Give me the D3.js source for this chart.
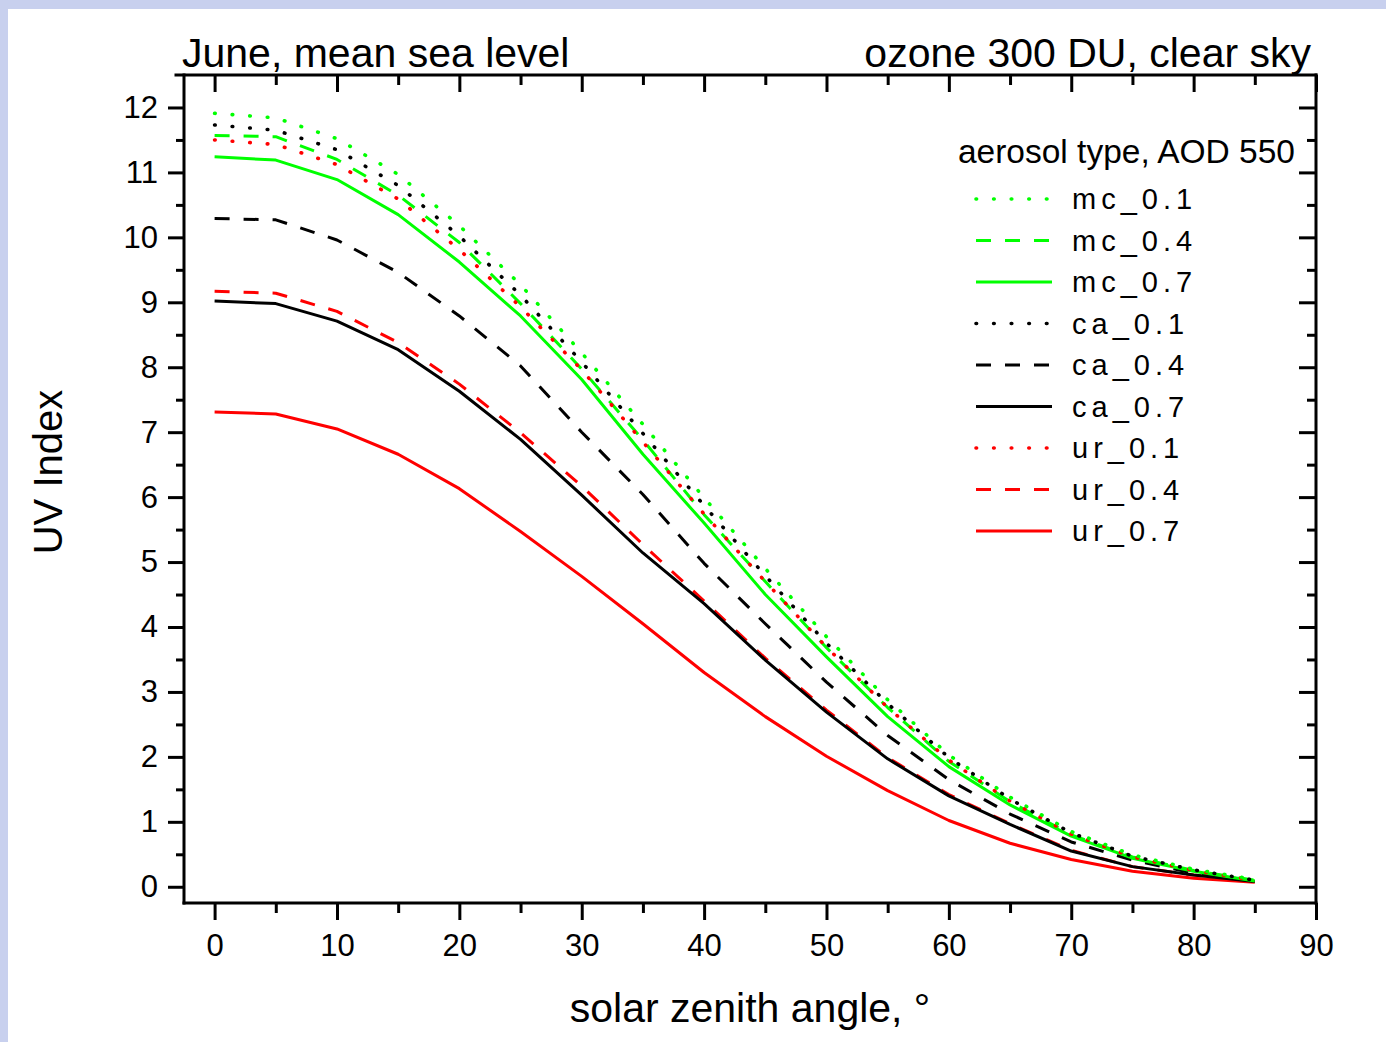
<!DOCTYPE html>
<html>
<head>
<meta charset="utf-8">
<script src="https://cdn.jsdelivr.net/npm/d3@7"></script>
<style>
  html, body { margin: 0; padding: 0; background: #c8d0ee; }
  svg { display: block; }
  text { font-family: "Liberation Sans", Arial, sans-serif; fill: #000; }
</style>
</head>
<body>
<svg id="chart" width="1386" height="1042"></svg>
<script>
// ---- data ----
const angles = [0, 5, 10, 15, 20, 25, 30, 35, 40, 45, 50, 55, 60, 65, 70, 75, 80, 85];
const mc_01 = [11.91, 11.84, 11.52, 10.97, 10.18, 9.27, 8.22, 7.12, 5.99, 4.90, 3.85, 2.88, 2.03, 1.38, 0.85, 0.49, 0.27, 0.11];
const mc_04 = [11.57, 11.55, 11.20, 10.65, 9.92, 8.98, 7.97, 6.88, 5.73, 4.70, 3.68, 2.76, 1.93, 1.31, 0.80, 0.46, 0.25, 0.10];
const mc_07 = [11.24, 11.19, 10.89, 10.35, 9.62, 8.79, 7.81, 6.66, 5.60, 4.50, 3.54, 2.62, 1.85, 1.26, 0.78, 0.44, 0.24, 0.09];
const ca_01 = [11.73, 11.65, 11.35, 10.80, 10.02, 9.11, 8.08, 6.98, 5.87, 4.79, 3.75, 2.82, 1.99, 1.35, 0.83, 0.47, 0.26, 0.10];
const ca_04 = [10.29, 10.27, 9.96, 9.46, 8.79, 8.02, 7.00, 6.04, 4.98, 4.05, 3.15, 2.33, 1.65, 1.12, 0.69, 0.41, 0.21, 0.09];
const ca_07 = [9.02, 8.98, 8.71, 8.27, 7.63, 6.89, 6.03, 5.14, 4.36, 3.49, 2.69, 1.97, 1.40, 0.96, 0.55, 0.31, 0.18, 0.08];
const ur_01 = [11.50, 11.43, 11.12, 10.59, 9.81, 8.93, 7.96, 6.85, 5.74, 4.70, 3.69, 2.76, 1.95, 1.32, 0.81, 0.46, 0.25, 0.10];
const ur_04 = [9.17, 9.14, 8.86, 8.38, 7.74, 6.99, 6.17, 5.27, 4.40, 3.52, 2.72, 1.99, 1.42, 0.97, 0.56, 0.31, 0.18, 0.08];
const ur_07 = [7.31, 7.28, 7.05, 6.66, 6.13, 5.47, 4.78, 4.05, 3.30, 2.62, 2.01, 1.48, 1.02, 0.67, 0.42, 0.24, 0.13, 0.07];

const seriesNames = ["mc_0.1", "mc_0.4", "mc_0.7", "ca_0.1", "ca_0.4", "ca_0.7", "ur_0.1", "ur_0.4", "ur_0.7"];
const seriesValues = [mc_01, mc_04, mc_07, ca_01, ca_04, ca_07, ur_01, ur_04, ur_07];
const seriesColors = ["#00ff00", "#00ff00", "#00ff00", "#000000", "#000000", "#000000", "#ff0000", "#ff0000", "#ff0000"];
const seriesStyles = ["dot", "dash", "solid", "dot", "dash", "solid", "dot", "dash", "solid"];

const xMajorTicks = [0, 10, 20, 30, 40, 50, 60, 70, 80, 90];
const xMinorTicks = [5, 15, 25, 35, 45, 55, 65, 75, 85];
const yMajorTicks = [0, 1, 2, 3, 4, 5, 6, 7, 8, 9, 10, 11, 12];
const yMinorTicks = [0.5, 1.5, 2.5, 3.5, 4.5, 5.5, 6.5, 7.5, 8.5, 9.5, 10.5, 11.5];

const titleLeft = "June, mean sea level";
const titleRight = "ozone 300 DU, clear sky";
const xLabel = "solar zenith angle, °";
const yLabel = "UV Index";
const legendTitle = "aerosol type, AOD 550";

// ---- layout ----
const L = 184, R = 1316, T = 75, B = 903;
const svg = d3.select("#chart");
svg.append("rect").attr("x", 8).attr("y", 9).attr("width", 1386 - 8).attr("height", 1042 - 9).attr("fill", "#fff");

const x = d3.scaleLinear().domain([-2.5, 90]).range([L, R]);
const y = d3.scaleLinear().domain([-0.25, 12.5]).range([B, T]);

// ---- data lines ----
const styleDash = { dot: "0.6,17", dash: "15,14", solid: null };
const styleCap = { dot: "round", dash: "butt", solid: "butt" };
const styleWidth = { dot: 3.6, dash: 3, solid: 3 };

const line = d3.line().x(d => x(d[0])).y(d => y(d[1]));
const gLines = svg.append("g");
const order = [8, 7, 5, 4, 2, 1, 6, 3, 0];
order.forEach(i => {
  const pts = angles.map((a, k) => [a, seriesValues[i][k]]);
  gLines.append("path")
    .attr("d", line(pts))
    .attr("fill", "none")
    .attr("stroke", seriesColors[i])
    .attr("stroke-width", styleWidth[seriesStyles[i]])
    .attr("stroke-linecap", styleCap[seriesStyles[i]])
    .attr("stroke-linejoin", "round")
    .attr("stroke-dasharray", styleDash[seriesStyles[i]]);
});

// ---- axes ----
function styleAxis(g) {
  g.select(".domain").remove();
  g.selectAll(".tick line").attr("stroke", "#000").attr("stroke-width", 3);
  g.selectAll(".tick text").attr("font-family", "'Liberation Sans', Arial, sans-serif").attr("font-size", 31).attr("fill", "#000");
}
svg.append("g").attr("transform", `translate(0,${B})`)
  .call(d3.axisBottom(x).tickValues(xMajorTicks).tickSize(17).tickPadding(14).tickFormat(d3.format("d")))
  .call(styleAxis);
svg.append("g").attr("transform", `translate(0,${B})`)
  .call(d3.axisBottom(x).tickValues(xMinorTicks).tickSize(10).tickFormat(""))
  .call(styleAxis);
svg.append("g").attr("transform", `translate(0,${T})`)
  .call(d3.axisBottom(x).tickValues(xMajorTicks).tickSize(17).tickFormat(""))
  .call(styleAxis);
svg.append("g").attr("transform", `translate(0,${T})`)
  .call(d3.axisBottom(x).tickValues(xMinorTicks).tickSize(10).tickFormat(""))
  .call(styleAxis);
svg.append("g").attr("transform", `translate(${L},0)`)
  .call(d3.axisLeft(y).tickValues(yMajorTicks).tickSize(16).tickPadding(10).tickFormat(d3.format("d")))
  .call(styleAxis);
svg.append("g").attr("transform", `translate(${L},0)`)
  .call(d3.axisLeft(y).tickValues(yMinorTicks).tickSize(8).tickFormat(""))
  .call(styleAxis);
svg.append("g").attr("transform", `translate(${R},0)`)
  .call(d3.axisLeft(y).tickValues(yMajorTicks).tickSize(17).tickFormat(""))
  .call(styleAxis);
svg.append("g").attr("transform", `translate(${R},0)`)
  .call(d3.axisLeft(y).tickValues(yMinorTicks).tickSize(9).tickFormat(""))
  .call(styleAxis);

// frame
const frame = svg.append("g").attr("stroke", "#000").attr("stroke-width", 3).attr("stroke-linecap", "square");
frame.append("line").attr("x1", L).attr("x2", L).attr("y1", T).attr("y2", B);
frame.append("line").attr("x1", L).attr("x2", R).attr("y1", B).attr("y2", B);
frame.append("line").attr("x1", R).attr("x2", R).attr("y1", T).attr("y2", B);
frame.append("line").attr("x1", L - 8).attr("x2", R).attr("y1", T).attr("y2", T);

// ---- titles ----
svg.append("text").attr("x", 182).attr("y", 67).attr("font-size", 41).text(titleLeft);
svg.append("text").attr("x", 1311).attr("y", 67).attr("font-size", 41).attr("text-anchor", "end").text(titleRight);
svg.append("text").attr("x", (L + R) / 2).attr("y", 1022).attr("font-size", 41).attr("text-anchor", "middle").text(xLabel);
svg.append("text").attr("transform", `translate(62,${(T + B) / 2 - 17}) rotate(-90)`)
  .attr("font-size", 40).attr("text-anchor", "middle").text(yLabel);

// ---- legend ----
const lg = svg.append("g");
lg.append("text").attr("x", 1295).attr("y", 163).attr("font-size", 33.5).attr("text-anchor", "end").text(legendTitle);
const legY0 = 199, legDy = 41.5;
seriesNames.forEach((name, i) => {
  const yy = legY0 + i * legDy;
  const st = seriesStyles[i];
  lg.append("line")
    .attr("x1", 976).attr("x2", 1052).attr("y1", yy).attr("y2", yy)
    .attr("stroke", seriesColors[i])
    .attr("stroke-width", styleWidth[st])
    .attr("stroke-linecap", styleCap[st])
    .attr("stroke-dasharray", styleDash[st]);
  lg.append("text").attr("x", 1072).attr("y", yy + 10)
    .attr("font-family", "'Liberation Mono', 'DejaVu Sans Mono', monospace")
    .attr("font-size", 29).attr("letter-spacing", 5)
    .text(name);
});
</script>
</body>
</html>
